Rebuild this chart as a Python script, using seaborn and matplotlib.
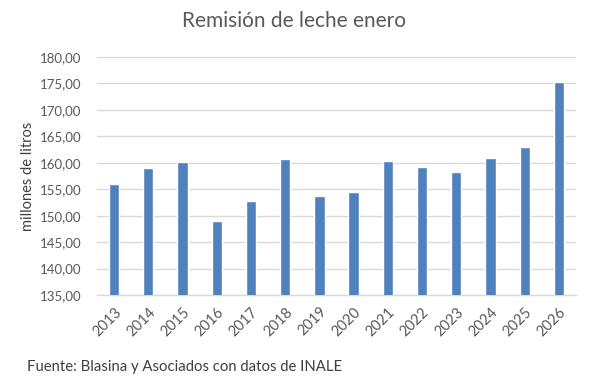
import matplotlib
matplotlib.use("Agg")
import matplotlib.pyplot as plt
import seaborn as sns
import pandas as pd

years = ["2013", "2014", "2015", "2016", "2017", "2018", "2019",
         "2020", "2021", "2022", "2023", "2024", "2025", "2026"]
values = [156.0, 159.0, 160.1, 149.0, 152.8, 160.7, 153.7,
          154.5, 160.3, 159.2, 158.3, 160.9, 163.0, 175.3]
yticks = [135, 140, 145, 150, 155, 160, 165, 170, 175, 180]
title = "Remisión de leche enero"
ylabel = "millones de litros"
source = "Fuente: Blasina y Asociados con datos de INALE"

sns.set_theme(style="white")
plt.rcParams["font.family"] = ["Lato", "DejaVu Sans"]

df = pd.DataFrame({"year": years, "value": values})

fig = plt.figure(figsize=(5.92, 3.81), dpi=100)
ax = fig.add_axes([97/592, 1-295/381, (576-97)/592, (295-57)/381])

sns.barplot(data=df, x="year", y="value", color="#4F81BD", width=0.3,
            saturation=1, ax=ax, zorder=3)

ax.set_ylim(135, 180)
ax.set_yticks(yticks)
ax.set_yticklabels([f"{v:.2f}".replace(".", ",") for v in yticks],
                   color="#595959", fontsize=9.5)
ax.set_xticks(range(len(years)))
ax.set_xticklabels(years, rotation=45, ha="right", rotation_mode="anchor",
                   color="#595959", fontsize=10.5)
ax.tick_params(axis="y", length=0, pad=11)
ax.tick_params(axis="x", length=0, pad=7)
ax.yaxis.grid(True, color="#D9D9D9", linewidth=1, zorder=0)
ax.set_axisbelow(True)
for s in ["top", "right", "left"]:
    ax.spines[s].set_visible(False)
ax.spines["bottom"].set_color("#D9D9D9")
ax.spines["bottom"].set_linewidth(1)
ax.set_xlabel("")
ax.set_ylabel(ylabel, color="#404040", fontsize=10.5, labelpad=4)

fig.text(294/592, 1-21/381, title, ha="center", va="center",
         fontsize=15, color="#595959")
fig.text(27/592, 1-367/381, source, ha="left", va="center",
         fontsize=10.7, color="#404040")

fig.savefig("out.png", dpi=100)
